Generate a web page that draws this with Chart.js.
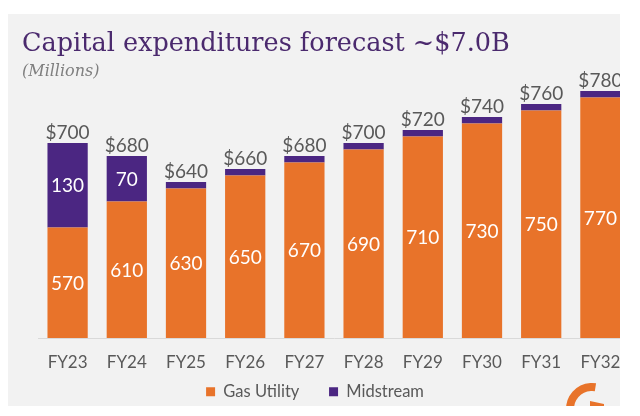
<!DOCTYPE html>
<html lang="en">
<head>
<meta charset="UTF-8">
<title>Capital expenditures forecast</title>
<script src="https://cdn.jsdelivr.net/npm/chart.js"></script>
<style>
    body {
        margin: 0;
        background: #fff;
        width: 640px;
        height: 416px;
        overflow: hidden;
        position: relative;
    }
    #panel {
        position: absolute;
        left: 8px;
        top: 14px;
        width: 612px;
        height: 392px;
        background: #f2f2f2;
        overflow: hidden;
    }
    #wrap {
        position: absolute;
        left: -8px;
        top: -14px;
        width: 640px;
        height: 416px;
    }
    #title {
        position: absolute;
        left: 14px;
        top: 13px;
        font-family: 'DejaVu Serif', serif;
        font-size: 25.5px;
        line-height: 30px;
        color: #4b2a6e;
        white-space: nowrap;
    }
    #sub {
        position: absolute;
        left: 14px;
        top: 47px;
        font-family: 'DejaVu Serif', serif;
        font-style: italic;
        font-size: 16px;
        line-height: 20px;
        color: #7f7f7f;
    }
</style>
</head>
<body>
<div id="panel">
    <div id="wrap"><canvas id="chart" width="640" height="416"></canvas></div>
    <div id="title">Capital expenditures forecast ~$7.0B</div>
    <div id="sub">(Millions)</div>
</div>

<script>
    const years = ['FY23', 'FY24', 'FY25', 'FY26', 'FY27', 'FY28', 'FY29', 'FY30', 'FY31', 'FY32'];
    const gasUtility = [570, 610, 630, 650, 670, 690, 710, 730, 750, 770];
    const midstream = [130, 70, 10, 10, 10, 10, 10, 10, 10, 10];
    const totals = [700, 680, 640, 660, 680, 700, 720, 740, 760, 780];

    const ORANGE = '#e8732a';
    const PURPLE = '#4b2682';
    const GREY = '#595959';

    // white numbers inside segments, grey totals above
    const barLabels = {
        id: 'barLabels',
        afterDatasetsDraw(chart) {
            const ctx = chart.ctx;
            const area = chart.chartArea;
            ctx.save();
            ctx.font = '19px Lato';
            ctx.textAlign = 'center';
            chart.data.datasets.forEach((ds, i) => {
                chart.getDatasetMeta(i).data.forEach((bar, j) => {
                    const v = ds.data[j];
                    if (v < 40) return;
                    const bottom = Math.min(bar.base, area.bottom);
                    ctx.fillStyle = '#fff';
                    ctx.textBaseline = 'middle';
                    ctx.fillText(v, bar.x, (bar.y + bottom) / 2 + 1);
                });
            });
            chart.getDatasetMeta(1).data.forEach((bar, j) => {
                ctx.fillStyle = GREY;
                ctx.textBaseline = 'bottom';
                ctx.fillText('$' + totals[j], bar.x, bar.y - 1);
            });
            ctx.restore();
        }
    };

    // bit of the logo peeking in the bottom right corner
    const logo = {
        id: 'logo',
        afterDraw(chart) {
            const ctx = chart.ctx;
            ctx.save();
            ctx.strokeStyle = ORANGE;
            ctx.lineWidth = 8;
            ctx.beginPath();
            ctx.arc(592, 409, 22, Math.PI * 0.98, Math.PI * 1.55);
            ctx.stroke();
            ctx.fillStyle = ORANGE;
            ctx.beginPath();
            ctx.moveTo(590, 401);
            ctx.lineTo(604, 404);
            ctx.lineTo(604, 410);
            ctx.lineTo(590, 410);
            ctx.fill();
            ctx.restore();
        }
    };

    new Chart(document.getElementById('chart'), {
        type: 'bar',
        data: {
            labels: years,
            datasets: [{
                label: 'Gas Utility',
                data: gasUtility,
                backgroundColor: ORANGE,
                categoryPercentage: 1,
                barPercentage: 0.68
            }, {
                label: 'Midstream',
                data: midstream,
                backgroundColor: PURPLE,
                categoryPercentage: 1,
                barPercentage: 0.68
            }]
        },
        options: {
            responsive: false,
            animation: false,
            layout: { padding: { top: 78, right: 10, left: 0, bottom: 6 } },
            scales: {
                x: {
                    stacked: true,
                    grid: { display: false },
                    border: { color: '#d9d9d9' },
                    ticks: { color: GREY, font: { family: 'Lato', size: 17 }, padding: 6 }
                },
                y: {
                    stacked: true,
                    min: 400,
                    max: 800,
                    grid: { display: false },
                    border: { display: false },
                    ticks: { display: false },
                    afterFit(scale) { scale.width = 38; }
                }
            },
            plugins: {
                legend: {
                    position: 'bottom',
                    labels: {
                        color: GREY,
                        font: { family: 'Lato', size: 16.5 },
                        boxWidth: 9,
                        boxHeight: 9,
                        padding: 5,
                        generateLabels(chart) {
                            const items = Chart.defaults.plugins.legend.labels.generateLabels(chart);
                            items.forEach((it, i) => {
                                it.lineWidth = 0;
                                if (i === 0) it.text += '\u2003\u2003';
                            });
                            return items;
                        }
                    }
                },
                tooltip: { enabled: false }
            }
        },
        plugins: [barLabels, logo]
    });
</script>
</body>
</html>
